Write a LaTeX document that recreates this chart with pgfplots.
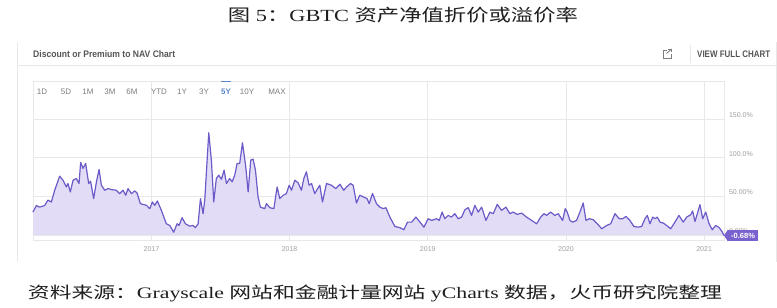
\documentclass[border=0pt]{standalone}
\usepackage{fontspec}
\usepackage{graphicx}
\usepackage{pgfplots}
\pgfplotsset{compat=1.18}
\usepackage{pgfplotstable}
\setmainfont{Liberation Serif}
\newfontfamily\cjk{Noto Sans CJK SC}
\newfontfamily\ui{Liberation Sans}
\definecolor{linec}{RGB}{108,90,200}
\definecolor{fillc}{RGB}{226,220,246}
\definecolor{gridc}{RGB}{232,232,232}
\definecolor{tickc}{RGB}{158,158,158}
\definecolor{btnc}{RGB}{125,125,125}
\definecolor{hdrc}{RGB}{85,85,85}
\definecolor{bluec}{RGB}{90,134,200}
\definecolor{badgec}{RGB}{122,98,206}
\definecolor{textc}{RGB}{30,30,30}

\pgfplotstableread{
t v
2016.143 29.6
2016.167 38.0
2016.191 36.0
2016.227 38.0
2016.251 45.0
2016.276 42.6
2016.300 57.8
2016.336 76.0
2016.360 70.8
2016.384 62.0
2016.396 66.5
2016.413 55.6
2016.433 70.8
2016.457 73.0
2016.476 66.5
2016.488 93.8
2016.505 86.0
2016.524 92.5
2016.546 66.5
2016.560 69.5
2016.582 47.0
2016.602 68.6
2016.621 84.7
2016.638 64.3
2016.662 57.8
2016.686 60.0
2016.710 58.7
2016.746 57.8
2016.770 53.5
2016.795 57.8
2016.814 51.3
2016.831 60.0
2016.855 53.5
2016.879 56.9
2016.896 54.3
2016.920 40.5
2016.964 38.3
2016.988 34.0
2017.007 42.6
2017.024 38.3
2017.043 43.9
2017.072 31.8
2017.108 14.5
2017.133 12.3
2017.161 3.6
2017.186 14.5
2017.200 12.3
2017.222 22.3
2017.246 14.5
2017.277 11.4
2017.301 12.3
2017.318 9.4
2017.338 14.5
2017.355 47.0
2017.374 27.5
2017.386 44.8
2017.415 132.2
2017.434 96.8
2017.451 42.6
2017.470 73.0
2017.487 77.3
2017.507 72.0
2017.526 83.8
2017.543 66.5
2017.567 73.0
2017.584 68.6
2017.603 77.3
2017.620 92.5
2017.639 92.5
2017.659 119.2
2017.683 88.0
2017.700 55.6
2017.719 96.8
2017.736 98.0
2017.753 83.8
2017.772 49.0
2017.789 36.0
2017.820 34.0
2017.833 40.5
2017.857 35.3
2017.886 34.0
2017.910 62.0
2017.929 47.0
2017.953 51.3
2017.977 53.5
2017.997 64.3
2018.014 57.8
2018.038 70.8
2018.062 67.3
2018.086 57.8
2018.103 73.0
2018.122 81.6
2018.141 64.3
2018.159 66.5
2018.182 53.5
2018.199 58.7
2018.219 64.3
2018.238 42.6
2018.267 66.5
2018.303 64.3
2018.335 60.0
2018.364 65.6
2018.392 57.8
2018.412 62.0
2018.441 66.5
2018.460 64.3
2018.484 41.3
2018.508 51.3
2018.537 49.0
2018.561 47.0
2018.576 40.5
2018.600 53.5
2018.629 40.5
2018.653 36.0
2018.677 34.0
2018.697 35.3
2018.726 23.1
2018.762 11.0
2018.798 9.4
2018.827 6.8
2018.854 16.6
2018.883 16.6
2018.914 23.1
2018.938 17.9
2018.972 10.1
2019.003 21.0
2019.028 18.8
2019.064 21.0
2019.083 18.8
2019.104 29.6
2019.124 21.0
2019.148 25.3
2019.172 23.1
2019.196 27.5
2019.220 21.0
2019.245 23.1
2019.269 32.7
2019.293 35.3
2019.317 25.3
2019.341 38.3
2019.365 29.6
2019.390 36.0
2019.421 18.8
2019.450 29.6
2019.474 27.5
2019.503 39.6
2019.534 31.8
2019.566 36.0
2019.594 27.5
2019.618 29.6
2019.647 26.6
2019.679 28.3
2019.715 23.1
2019.752 18.8
2019.788 14.5
2019.817 23.1
2019.841 27.5
2019.860 25.3
2019.889 29.6
2019.920 25.3
2019.944 27.5
2019.976 18.8
2019.995 34.0
2020.009 29.6
2020.029 18.8
2020.049 16.6
2020.077 18.8
2020.101 29.6
2020.125 41.3
2020.145 18.8
2020.169 21.0
2020.198 19.7
2020.227 14.5
2020.259 8.0
2020.295 12.3
2020.324 14.5
2020.355 27.5
2020.386 21.0
2020.411 21.0
2020.435 24.0
2020.463 18.8
2020.492 11.0
2020.524 10.1
2020.548 11.0
2020.572 21.0
2020.589 25.3
2020.608 14.5
2020.628 23.1
2020.645 21.0
2020.661 23.1
2020.681 16.6
2020.705 15.3
2020.729 12.3
2020.758 8.0
2020.789 16.6
2020.818 25.3
2020.849 16.6
2020.874 23.1
2020.903 26.2
2020.917 30.9
2020.934 17.5
2020.951 27.5
2020.970 39.2
2020.990 21.0
2021.012 29.6
2021.036 14.5
2021.059 6.8
2021.084 12.3
2021.110 9.4
2021.132 3.6
2021.144 -0.68
}\gbtc

\begin{document}
\begin{tikzpicture}
\begin{scope}[x=1pt,y=1pt]
\path[use as bounding box] (0,0) rectangle (777,308);
% card frame
\draw[gridc, line width=0.8pt] (17,266) -- (17,46);
\draw[gridc, line width=0.8pt] (776.4,266) -- (776.4,46);
\draw[gridc, line width=0.8pt] (17,243) -- (777,243);
\draw[gridc, line width=0.8pt] (690,263) -- (690,245);
% header
\node[anchor=west, inner sep=0, text=hdrc] at (33,254)
  {\resizebox{142pt}{\height}{\fontsize{9.5}{11}\selectfont\ui\bfseries Discount or Premium to NAV Chart}};
\node[anchor=west, inner sep=0, text=hdrc] at (697,254)
  {\resizebox{73pt}{\height}{\fontsize{9.5}{11}\selectfont\ui\bfseries VIEW FULL CHART}};
% external link icon
\draw[btnc, line width=0.9pt] (666.5,258) -- (663,258) -- (663,250) -- (671,250) -- (671,253.5);
\draw[btnc, line width=0.9pt] (666.5,254.5) -- (671.5,259);
\draw[btnc, line width=0.9pt] (668,259) -- (671.5,259) -- (671.5,255.5);
\end{scope}
% axis
\begin{axis}[
  at={(33pt,68pt)}, anchor=south west, scale only axis,
  width=691pt, height=158.3pt,
  xmin=2016.143, xmax=2021.144, ymin=-6.5, ymax=198.1,
  axis line style={gridc, line width=0.7pt},
  xtick={2017,2018,2019,2020,2021},
  xticklabels={2017,2018,2019,2020,2021},
  ytick={0,50,100,150},
  yticklabels={0.00\%,50.00\%,100.0\%,150.0\%},
  yticklabel pos=right,
  grid=major, major grid style={gridc, line width=0.7pt},
  major tick length=0pt, tick style={draw=none},
  ticklabel style={font={\fontsize{7}{8}\selectfont\ui}, text=tickc},
  yticklabel style={anchor=west, xshift=1.5pt, yshift=4pt},
  xticklabel style={yshift=-3pt},
  clip=false,
]
\addplot[fill=fillc, draw=none] table[x=t, y=v] {\gbtc} \closedcycle;
\addplot[linec, line width=1.2pt, line join=round, mark=none] table[x=t, y=v] {\gbtc};
\coordinate (endpt) at (axis cs:2021.144,-0.68);
\end{axis}
\begin{scope}[x=1pt,y=1pt]
% badge
\node[anchor=west, xshift=4pt, fill=badgec, text=white, inner xsep=3pt, inner ysep=0pt,
  minimum height=11.7pt, font={\fontsize{7.5}{9}\selectfont\ui\bfseries}] (b) at (endpt) {-0.68\%};
\fill[badgec] (b.north west) -- ([xshift=-4pt]b.west) -- (b.south west) -- cycle;
% range buttons
\foreach \lab/\xx in {1D/42,5D/66,1M/88,3M/110,6M/132,YTD/159,1Y/182,3Y/204,10Y/247,MAX/277}
  \node[text=btnc, inner sep=0, font={\fontsize{8}{9}\selectfont\ui}] at (\xx,216) {\lab};
\node[text=bluec, inner sep=0, font={\fontsize{8}{9}\selectfont\ui\bfseries}] at (226,216) {5Y};
\draw[bluec, line width=1.8pt] (221,226.5) -- (231,226.5);
% title and source
\node[text=textc, inner sep=0] at (403,292.5)
  {\resizebox{350pt}{\height}{\fontsize{17}{20}\selectfont{\cjk 图} 5{\cjk ：}GBTC {\cjk 资产净值折价或溢价率}}};
\node[text=textc, inner sep=0] at (375,15)
  {\resizebox{694pt}{\height}{\fontsize{16}{19}\selectfont{\cjk 资料来源：}Grayscale {\cjk 网站和金融计量网站} yCharts {\cjk 数据，火币研究院整理}}};
\end{scope}
\end{tikzpicture}
\end{document}
